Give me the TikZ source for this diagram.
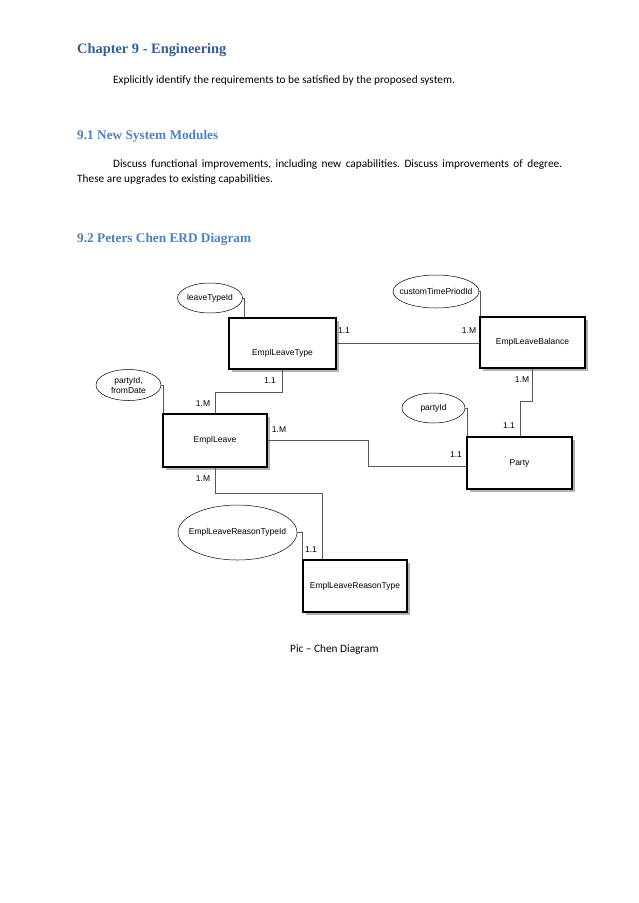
\documentclass[tikz,border=0pt]{standalone}
\usepackage{fontspec}
\setmainfont{Carlito}
\newfontfamily\headfont{Liberation Serif}
\newfontfamily\erdfont{Liberation Sans}
\usetikzlibrary{shapes, shapes.geometric, shadows, positioning}
\definecolor{chapblue}{HTML}{365F91}
\definecolor{secblue}{HTML}{4F81BD}
\frenchspacing
\tikzstyle{entity} = [rectangle, draw, line width=1.1pt, fill=white, inner sep=0,
  drop shadow={shadow xshift=2.5pt, shadow yshift=-2.5pt, fill=black!30, opacity=1},
  font=\erdfont\fontsize{8.5}{10}\selectfont]
\tikzstyle{attr} = [ellipse, draw, line width=0.5pt, inner sep=0, align=center,
  font=\erdfont\fontsize{8.5}{10}\selectfont]
\tikzstyle{card} = [inner sep=0, font=\erdfont\fontsize{8.5}{10}\selectfont]
\tikzstyle{line} = [draw, black!65, line width=0.7pt]
\tikzstyle{heading} = [anchor=base west, inner sep=0, font=\headfont\bfseries\fontsize{13.3}{15}\selectfont, secblue]
\tikzstyle{body} = [anchor=base west, inner sep=0, font=\fontsize{11.3}{13}\selectfont]

\begin{document}
\begin{tikzpicture}[x=1pt, y=-1pt]
	\useasboundingbox[fill=white] (0,0) rectangle (638,903);

	% text of the page
	\node [heading, chapblue, font=\headfont\bfseries\fontsize{14.4}{16}\selectfont] (chap) at (77,53) {Chapter 9 - Engineering};
	\node [body] (req) at (113,83) {Explicitly identify the requirements to be satisfied by the proposed system.};
	\node [heading] (sec1) at (77,139) {9.1 New System Modules};
	\node [body] (disc1) at (113,167) {\makebox[449pt][s]{Discuss functional improvements, including new capabilities. Discuss improvements of degree.}};
	\node [body] (disc2) at (77,182) {These are upgrades to existing capabilities.};
	\node [heading] (sec2) at (77,242) {9.2 Peters Chen ERD Diagram};

	% entities
	\node [entity, minimum width=107, minimum height=51, text height=26pt] (elt) at (282.5,343.5) {EmplLeaveType};
	\node [entity, minimum width=105, minimum height=51] (elb) at (532.5,342.5) {EmplLeaveBalance};
	\node [entity, minimum width=104, minimum height=53] (el) at (215,440.5) {EmplLeave};
	\node [entity, minimum width=105, minimum height=52] (party) at (519.5,463) {Party};
	\node [entity, minimum width=104, minimum height=52] (elrt) at (355,586) {EmplLeaveReasonType};

	% attributes
	\node [attr, minimum width=65, minimum height=30] (lt) at (210,298) {leaveTypeId};
	\node [attr, minimum width=86, minimum height=33, inner xsep=-10pt] (ctp) at (436,291.5) {customTimePriodId};
	\node [attr, minimum width=63, minimum height=30] (pid) at (433.5,408) {partyId};
	\node [attr, minimum width=65, minimum height=31] (pfd) at (128.5,385) {partyId,\\fromDate};
	\node [attr, minimum width=119, minimum height=55, inner xsep=-10pt] (elrti) at (237.5,532.5) {EmplLeaveReasonTypeId};

	% bends
	\coordinate (b1) at (520,401);
	\coordinate (b2) at (368,466);
	\coordinate (b3) at (282,392);
	\coordinate (b4) at (322,493);

	% connectors
	\path [line] (lt.east) -| ([xshift=1.5]lt.east |- elt.north);
	\path [line] (ctp.east) -| ([xshift=1]ctp.east |- elb.north);
	\path [line] (pid.east) -| ([xshift=2]pid.east |- party.north);
	\path [line] (pfd.east) -| ([xshift=2]pfd.east |- el.north);
	\path [line] (elrti.east) -| ([xshift=5]elrti.east |- elrt.north);
	\path [line] (elt.east) -- (elt.east -| elb.west);
	\path [line] (elb.south) |- (b1) -- (b1 |- party.north);
	\path [line] (el.east) -| (b2) -- (b2 -| party.west);
	\path [line] (el.north) |- (b3) -- (b3 |- elt.south);
	\path [line] (el.south) |- (b4) -- (b4 |- elrt.north);

	% cardinalities
	\node [card] (c1) at (344,331) {1.1};
	\node [card] (c2) at (469,331) {1.M};
	\node [card] (c3) at (522,380) {1.M};
	\node [card] (c4) at (509,426) {1.1};
	\node [card] (c5) at (456,455) {1.1};
	\node [card] (c6) at (279,430) {1.M};
	\node [card] (c7) at (203,404) {1.M};
	\node [card] (c8) at (270,381) {1.1};
	\node [card] (c9) at (203,479) {1.M};
	\node [card] (c10) at (311,550) {1.1};

	% caption
	\node [body] (cap) at (290,652) {Pic -- Chen Diagram};
\end{tikzpicture}
\end{document}
